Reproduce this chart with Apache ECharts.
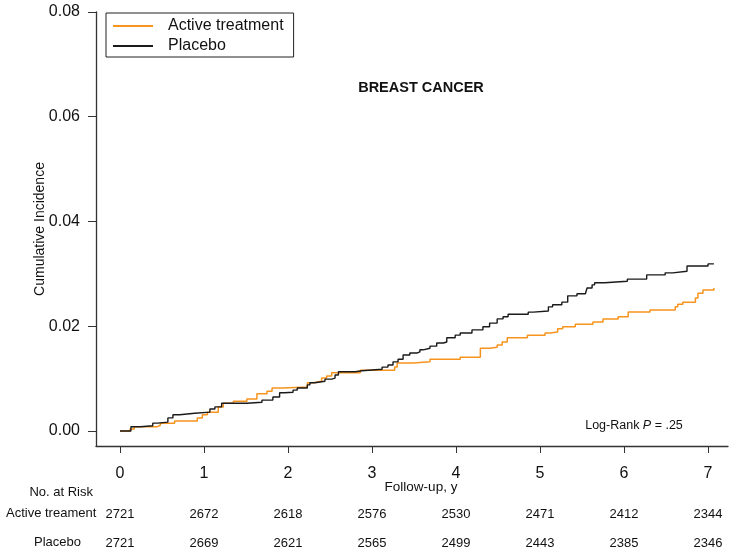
<!DOCTYPE html>
<html>
<head>
<meta charset="utf-8">
<script src="https://cdn.jsdelivr.net/npm/echarts@6/dist/echarts.min.js"></script>
<style>
html,body{margin:0;padding:0;background:#fff;}
#chart{width:742px;height:557px;}
</style>
</head>
<body>
<div id="chart"></div>
<script>
// ---- data ----
const years = [0, 1, 2, 3, 4, 5, 6, 7];
const yTicks = [0, 0.02, 0.04, 0.06, 0.08];
const riskActive = [2721, 2672, 2618, 2576, 2530, 2471, 2412, 2344];
const riskPlacebo = [2721, 2669, 2621, 2565, 2499, 2443, 2385, 2346];

const activeT = [0, 0.12, 0.17, 0.44, 0.48, 0.65, 0.92, 0.98, 1.04, 1.17, 1.23, 1.35, 1.51, 1.63, 1.75, 1.81, 1.94, 2.23, 2.30, 2.40, 2.46, 2.52, 2.86, 3.27, 3.30, 3.49, 3.69, 4.05, 4.29, 4.40, 4.49, 4.55, 4.61, 4.85, 5.06, 5.12, 5.21, 5.27, 5.42, 5.63, 5.75, 5.93, 6.05, 6.31, 6.61, 6.64, 6.70, 6.85, 6.88, 6.94, 7.07];
const activeV = [0, 0.0004, 0.0008, 0.0011, 0.0015, 0.0019, 0.0025, 0.0031, 0.0036, 0.0046, 0.0053, 0.0057, 0.0061, 0.0071, 0.0076, 0.0082, 0.0084, 0.0092, 0.0095, 0.0101, 0.0105, 0.0111, 0.0116, 0.0122, 0.0130, 0.0132, 0.0137, 0.0141, 0.0158, 0.0160, 0.0164, 0.0170, 0.0178, 0.0183, 0.0187, 0.0189, 0.0195, 0.0199, 0.0204, 0.0208, 0.0214, 0.0218, 0.0227, 0.0231, 0.0237, 0.0242, 0.0246, 0.0254, 0.0263, 0.0269, 0.0273];

const placeboT = [0, 0.13, 0.24, 0.39, 0.45, 0.57, 0.63, 0.71, 0.89, 1.07, 1.13, 1.21, 1.51, 1.69, 1.82, 1.90, 1.96, 2.06, 2.11, 2.23, 2.26, 2.32, 2.44, 2.52, 2.56, 2.60, 2.80, 2.88, 3.12, 3.19, 3.25, 3.31, 3.37, 3.45, 3.54, 3.57, 3.61, 3.69, 3.77, 3.85, 3.89, 3.99, 4.05, 4.19, 4.32, 4.40, 4.49, 4.56, 4.62, 4.86, 4.92, 5.10, 5.15, 5.26, 5.33, 5.44, 5.54, 5.56, 5.62, 5.65, 5.77, 6.04, 6.27, 6.49, 6.58, 6.75, 7.00, 7.07];
const placeboV = [0, 0.0008, 0.0010, 0.0015, 0.0017, 0.0025, 0.0031, 0.0034, 0.0036, 0.0042, 0.0046, 0.0053, 0.0055, 0.0059, 0.0065, 0.0073, 0.0074, 0.0078, 0.0082, 0.0088, 0.0092, 0.0095, 0.0099, 0.0101, 0.0107, 0.0113, 0.0115, 0.0118, 0.0122, 0.0126, 0.0132, 0.0137, 0.0145, 0.0149, 0.0151, 0.0155, 0.0158, 0.0162, 0.0168, 0.0170, 0.0178, 0.0183, 0.0187, 0.0193, 0.0199, 0.0206, 0.0214, 0.0218, 0.0223, 0.0227, 0.0229, 0.0237, 0.0241, 0.0246, 0.0258, 0.0262, 0.0265, 0.0273, 0.0279, 0.0283, 0.0286, 0.0290, 0.0298, 0.0302, 0.0305, 0.0315, 0.0319, 0.0319];

// ---- chart ----
const FONT = 'Liberation Sans, Arial, Helvetica, sans-serif';
const AX = '#333';
const chart = echarts.init(document.getElementById('chart'), null, {renderer: 'canvas'});

const xMin = -0.2857, xMax = 7.238;
function riskAxis(values, margin) {
  return {
    type: 'value', min: xMin, max: xMax, position: 'bottom', gridIndex: 0,
    axisLine: {show: false, onZero: false}, axisTick: {show: false}, splitLine: {show: false},
    axisLabel: {
      customValues: years, margin: margin, fontSize: 13, fontFamily: FONT, color: '#111',
      formatter: v => String(values[Math.round(v)])
    }
  };
}

chart.setOption({
  animation: false,
  backgroundColor: '#fff',
  textStyle: {fontFamily: FONT},
  grid: {left: 96, right: 14, top: 12, bottom: 111, containLabel: false},
  legend: {
    orient: 'vertical', left: 106, top: 13,
    padding: [5, 10, 3, 6],
    itemWidth: 40, itemHeight: 14, itemGap: 4,
    borderColor: '#222', borderWidth: 1,
    itemStyle: {opacity: 0},
    textStyle: {fontSize: 16, fontFamily: FONT, color: '#111', lineHeight: 14, padding: [0, 0, 0, 10]},
    data: ['Active treatment', 'Placebo']
  },
  xAxis: [
    {
      type: 'value', min: xMin, max: xMax,
      axisLine: {show: true, onZero: false, lineStyle: {color: AX, width: 1.3}},
      axisTick: {show: true, customValues: years, length: 7, lineStyle: {color: AX, width: 1}},
      axisLabel: {customValues: years, margin: 20, fontSize: 16, fontFamily: FONT, color: '#111',
        formatter: v => String(Math.round(v))},
      splitLine: {show: false}
    },
    riskAxis(riskActive, 62),
    riskAxis(riskPlacebo, 91)
  ],
  yAxis: {
    type: 'value', min: -0.002864, max: 0.08,
    name: 'Cumulative Incidence', nameLocation: 'middle', nameGap: 49, nameMoveOverlap: false,
    nameTextStyle: {fontSize: 14, fontFamily: FONT, color: '#111'},
    axisLine: {show: true, onZero: false, lineStyle: {color: AX, width: 1.3}},
    axisTick: {show: true, customValues: yTicks, length: 8, lineStyle: {color: AX, width: 1}},
    axisLabel: {customValues: yTicks, margin: 16, fontSize: 16, fontFamily: FONT, color: '#111',
      formatter: v => v.toFixed(2)},
    splitLine: {show: false}
  },
  graphic: [
    {type: 'text', x: 421, y: 88, style: {text: 'BREAST CANCER', font: 'bold 14.5px ' + FONT, fill: '#111', textAlign: 'center', textVerticalAlign: 'middle'}},
    {type: 'text', x: 634, y: 426, style: {
      text: '{a|Log-Rank }{b|P}{a| = .25}', textAlign: 'center', textVerticalAlign: 'middle',
      rich: {a: {fontSize: 12.5, fontFamily: FONT, fill: '#111'}, b: {fontSize: 12.5, fontFamily: FONT, fontStyle: 'italic', fill: '#111'}}
    }},
    {type: 'text', x: 421, y: 487, style: {text: 'Follow-up, y', font: '13.5px ' + FONT, fill: '#111', textAlign: 'center', textVerticalAlign: 'middle'}},
    {type: 'text', x: 93, y: 492, style: {text: 'No. at Risk', font: '13px ' + FONT, fill: '#111', textAlign: 'right', textVerticalAlign: 'middle'}},
    {type: 'text', x: 6, y: 513, style: {text: 'Active treament', font: '13px ' + FONT, fill: '#111', textAlign: 'left', textVerticalAlign: 'middle'}},
    {type: 'text', x: 34, y: 542, style: {text: 'Placebo', font: '13px ' + FONT, fill: '#111', textAlign: 'left', textVerticalAlign: 'middle'}}
  ],
  series: [
    {
      name: 'Active treatment', type: 'line', step: 'end', symbol: 'none', showSymbol: false,
      xAxisIndex: 0, yAxisIndex: 0,
      lineStyle: {color: '#F7941D', width: 1.5}, itemStyle: {color: '#F7941D'},
      data: activeT.map((t, i) => [t, activeV[i]])
    },
    {
      name: 'Placebo', type: 'line', step: 'end', symbol: 'none', showSymbol: false,
      xAxisIndex: 0, yAxisIndex: 0,
      lineStyle: {color: '#1a1a1a', width: 1.4}, itemStyle: {color: '#1a1a1a'},
      data: placeboT.map((t, i) => [t, placeboV[i]])
    }
  ]
});
</script>
</body>
</html>
